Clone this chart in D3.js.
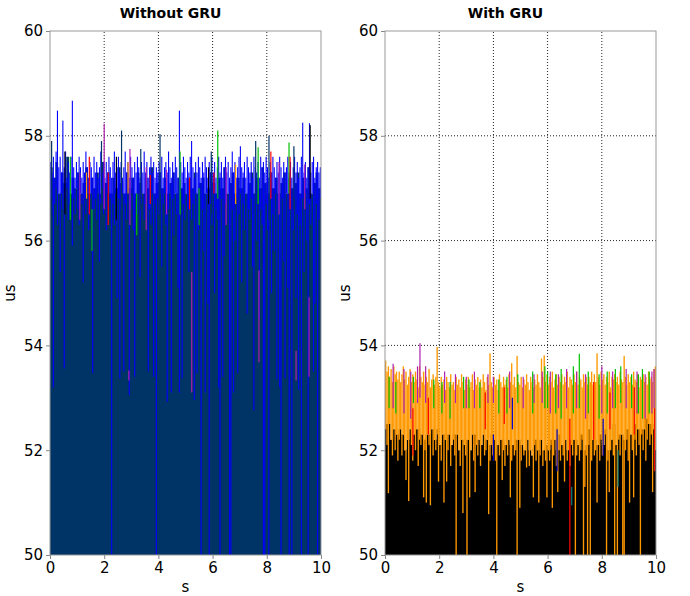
<!DOCTYPE html>
<html>
<head>
<meta charset="utf-8">
<script src="https://cdn.jsdelivr.net/npm/d3@7"></script>
<style>
  body { margin: 0; background: #fff; }
  text { font-family: "DejaVu Sans", sans-serif; }
</style>
</head>
<body>
<div id="chart"></div>
<script>
// ---- data (us values, 0..10 s) ----

// Without GRU: dark navy trace, top of its band per 0.1 s
var navyTop = [
  57.4,57.2,57.5,56.9,57.3,57.1,57.6,56.9,57.2,57.0,
  57.3,56.9,57.1,57.4,56.9,57.2,57.0,57.3,56.9,57.5,
  57.1,57.3,56.9,57.2,57.0,57.4,57.1,56.9,57.3,57.0,
  57.2,56.9,57.3,57.1,56.9,57.2,57.0,57.4,56.9,57.1,
  57.3,57.0,57.2,56.9,57.1,57.3,56.9,57.2,57.0,57.1,
  56.9,57.2,57.0,57.3,56.9,57.1,57.2,56.9,57.0,57.3,
  57.1,56.9,57.2,57.0,57.4,56.9,57.1,57.3,56.9,57.2,
  57.0,57.2,56.9,57.1,57.3,56.9,57.2,57.0,57.4,57.1,
  56.9,57.3,57.0,57.2,56.9,57.1,57.3,56.9,57.2,57.0,
  57.1,57.3,56.9,57.2,57.0,57.4,56.9,57.1,57.3,57.0
];

// Without GRU: blue trace, high / low per 0.05 s
var blueTop = [
  57.5,57.3,57.6,57.2,57.7,58.48,57.4,57.6,57.3,58.29,
  57.4,57.7,57.2,57.5,57.3,57.6,58.67,57.4,57.2,57.5,
  57.3,57.6,57.4,57.2,57.5,57.3,57.7,57.4,57.2,57.5,
  57.4,57.2,57.6,57.3,57.5,57.2,57.4,57.7,57.3,57.5,
  57.2,57.5,57.3,57.6,57.4,57.2,57.5,57.7,57.3,57.4,
  57.6,57.3,57.5,57.2,57.4,57.7,57.3,57.5,57.2,57.6,
  57.4,57.2,57.5,57.3,57.6,57.4,57.2,57.5,57.3,57.7,
  57.3,57.5,57.2,57.4,57.6,57.3,57.5,57.2,57.4,57.3,
  57.5,57.3,57.6,57.2,57.4,57.5,57.3,57.7,57.4,57.2,
  57.5,57.3,57.6,57.4,57.2,58.48,57.5,57.3,57.6,57.4,
  57.2,57.5,57.3,57.6,57.9,57.4,57.2,57.5,57.3,57.6,
  57.4,57.2,57.5,57.3,57.6,57.4,57.2,57.5,57.3,57.6,
  57.3,57.5,57.2,57.4,57.6,57.3,57.5,57.2,57.4,57.6,
  57.3,57.5,57.2,57.4,57.7,57.3,57.5,57.2,57.4,57.6,
  57.8,57.4,57.3,57.5,57.2,57.6,57.4,57.3,57.5,57.2,
  57.6,57.4,57.3,57.5,57.2,57.6,57.4,57.5,57.3,57.6,
  57.4,57.2,57.5,57.3,57.6,57.4,57.2,57.5,57.3,57.6,
  57.4,57.2,57.5,57.3,57.4,57.6,57.3,57.5,57.2,57.4,
  57.6,57.3,57.5,57.2,57.4,57.6,58.25,57.3,57.5,57.2,
  57.4,58.24,57.3,57.5,57.6,57.2,57.4,57.5,57.3,57.4
];
var blueLow = [
  56.8,56.5,53.2,56.7,57.0,56.3,56.9,55.4,56.9,56.6,
  53.56,56.8,57.0,56.4,56.7,56.9,55.9,56.8,56.5,57.0,
  56.6,56.3,56.9,56.7,55.2,56.8,56.5,56.9,56.2,56.8,
  56.9,53.47,56.6,56.8,56.4,56.9,55.6,56.7,57.0,56.5,
  56.8,56.2,56.9,56.6,56.8,50.0,56.7,56.3,56.9,54.9,
  56.8,53.37,56.6,56.9,53.5,56.7,56.4,56.9,53.05,56.6,
  56.9,56.2,53.4,56.8,56.5,56.9,55.3,56.7,56.9,56.4,
  56.7,56.9,53.5,56.6,56.3,56.9,53.4,56.7,50.0,56.8,
  56.5,56.9,55.5,56.7,56.9,56.3,52.92,56.6,56.9,53.1,
  56.8,56.1,56.9,56.5,55.1,53.1,56.9,53.37,56.7,56.4,
  56.9,56.6,55.4,56.8,56.4,56.7,52.96,56.9,53.47,56.2,
  56.8,50.0,56.6,55.8,53.1,56.9,54.8,50.0,56.7,56.3,
  56.9,55.0,56.6,56.4,53.2,50.0,56.8,53.4,55.7,56.7,
  56.3,56.9,50.0,50.0,56.6,53.1,56.0,56.8,53.47,56.5,
  56.9,55.2,56.7,56.2,56.9,54.6,56.6,56.4,56.8,55.5,
  52.76,56.7,56.0,56.9,54.5,56.6,56.3,50.0,50.0,56.7,
  56.2,50.0,56.8,55.0,56.5,55.8,56.9,53.35,56.6,53.2,
  50.0,56.8,55.6,53.37,56.9,55.1,50.0,56.6,50.0,56.2,
  56.8,54.9,56.5,53.15,56.3,50.0,56.8,55.4,56.9,56.0,
  50.0,56.7,56.3,56.9,53.5,54.8,56.7,50.0,56.4,56.8
];

// Without GRU: other traces, single spikes [s, low, high]
var navySpikesL = [[0.06,56.5,57.9],[1.9,56.8,57.9],[2.64,56.6,58.1],[3.35,56.6,57.75],
  [4.06,56.5,58.03],[5.95,56.5,57.7],[7.59,56.7,57.9],[8.08,56.4,58.0],[9.0,56.6,57.8]];
var magentaSpikesL = [[2.0,56.6,58.23],[2.95,56.3,57.75],[2.91,53.33,53.52],[5.23,53.1,55.4],
  [7.71,53.68,55.43],[9.08,53.33,53.9],[9.56,53.4,54.92],[1.1,56.4,57.3],[3.55,56.2,57.4],
  [4.3,56.5,57.35],[6.5,56.3,57.4],[8.45,56.5,57.5],[9.4,56.6,57.45]];
var greenSpikesL = [[0.75,56.4,57.6],[4.8,56.5,57.7],[6.19,56.8,58.1],[7.68,56.7,57.78],
  [8.82,56.9,57.87],[1.55,55.8,56.6],[3.2,56.1,56.9],[5.5,56.3,57.0]];
var redSpikesL = [[1.45,56.5,57.6],[2.15,56.3,57.3],[3.7,56.7,57.25],[5.15,56.6,57.2],
  [8.15,56.8,57.7],[8.86,56.6,57.6],[6.05,56.9,57.3]];
var orangeSpikesL = [[2.88,56.9,57.5],[6.85,56.7,57.45],[1.35,56.8,57.3]];
var blackSpikesL = [[9.6,56.8,58.2],[2.45,56.4,57.6],[0.55,56.5,57.7],[5.85,56.7,57.4]];

// With GRU: black trace, top of its band per 0.1 s
var blackTop = [
  52.5,52.5,52.2,52.4,52.3,52.4,52.3,52.0,52.2,52.4,
  52.3,52.4,52.4,52.3,52.2,52.3,52.3,52.4,52.2,52.4,
  52.1,52.3,52.2,52.3,52.1,52.3,52.3,52.0,52.2,52.1,
  52.2,52.0,52.3,52.3,52.2,52.1,52.3,52.2,52.1,52.3,
  52.2,52.1,52.2,52.2,52.1,52.2,52.1,52.1,52.2,52.2,
  52.1,52.0,52.2,52.0,51.9,52.2,52.0,52.2,52.0,52.1,
  52.0,52.2,52.2,52.0,52.3,52.1,52.2,52.0,52.2,52.2,
  52.2,52.1,52.3,52.0,52.1,52.4,52.2,52.2,52.1,52.3,
  52.1,52.4,52.0,52.2,52.5,52.1,52.3,52.3,52.2,52.4,
  52.3,52.3,52.5,52.4,52.4,52.4,52.6,52.5,52.5,52.4
];

// With GRU: orange trace, high / low per 0.05 s
var orangeTop = [
  53.71,53.5,53.6,53.4,53.55,53.3,53.6,53.45,53.5,53.35,
  53.5,53.3,53.45,53.6,53.35,53.5,53.25,53.4,53.55,53.3,
  53.45,53.3,53.5,53.35,53.2,53.6,53.4,53.3,53.5,53.25,
  53.4,53.3,53.55,53.2,53.35,53.45,53.25,53.4,53.97,53.3,
  53.2,53.4,53.25,53.35,53.15,53.4,53.3,53.2,53.45,53.25,
  53.3,53.15,53.4,53.25,53.35,53.2,53.45,53.3,53.15,53.35,
  53.25,53.4,53.2,53.3,53.45,53.15,53.35,53.25,53.4,53.2,
  53.35,53.2,53.45,53.3,53.15,53.4,53.25,53.85,53.3,53.2,
  53.4,53.25,53.35,53.15,53.45,53.3,53.2,53.4,53.25,53.35,
  53.2,53.45,53.3,53.66,53.25,53.4,53.2,53.8,53.3,53.25,
  53.4,53.2,53.35,53.25,53.45,53.3,53.15,53.4,53.3,53.2,
  53.35,53.25,53.45,53.3,53.2,53.75,53.4,53.81,53.3,53.45,
  53.25,53.4,53.3,53.5,53.2,53.35,53.45,53.25,53.4,53.3,
  53.45,53.25,53.4,53.3,53.5,53.2,53.4,53.35,53.25,53.45,
  53.3,53.5,53.25,53.4,53.35,53.2,53.45,53.3,53.4,53.25,
  53.4,53.3,53.5,53.25,53.45,53.3,53.85,53.4,53.25,53.5,
  53.35,53.45,53.25,53.4,53.3,53.5,53.2,53.4,53.35,53.45,
  53.3,53.4,53.25,53.5,53.35,53.3,53.8,53.4,53.25,53.45,
  53.3,53.4,53.25,53.5,53.35,53.3,53.45,53.2,53.4,53.35,
  53.45,53.3,53.4,53.25,53.5,53.35,53.4,53.3,53.55,53.6
];
var orangeLow = [
  52.4,52.1,51.18,52.5,52.2,51.9,52.4,52.0,52.3,51.8,
  52.2,52.4,51.9,52.3,52.0,51.43,52.2,51.03,52.4,52.1,
  51.8,52.3,52.0,52.4,51.7,52.2,52.1,52.3,51.1,52.0,
  51.0,52.3,52.1,50.95,52.4,51.9,52.2,52.0,52.3,51.4,
  52.1,51.8,52.3,51.0,52.2,51.4,52.0,52.3,51.7,52.1,
  52.2,51.9,50.0,52.3,52.0,51.7,52.2,50.8,52.1,51.9,
  50.0,52.2,51.1,52.0,52.3,51.8,51.2,52.1,51.9,52.2,
  51.7,52.1,52.3,51.9,52.0,52.2,50.78,51.8,52.1,51.9,
  52.2,51.8,50.0,52.1,51.9,52.2,51.43,52.0,51.7,52.1,
  51.9,52.2,51.1,51.8,52.1,51.9,52.0,50.0,52.2,50.9,
  51.8,52.1,51.9,52.0,51.67,52.2,51.7,52.0,51.9,51.1,
  52.1,51.8,52.0,51.0,51.9,52.2,51.7,52.0,51.8,51.1,
  52.0,51.8,52.1,50.9,51.9,52.2,51.7,51.2,52.0,51.8,
  52.1,51.9,51.4,52.2,51.8,52.0,51.7,52.1,51.9,52.2,
  50.0,51.9,52.1,51.8,52.0,52.2,50.0,51.3,51.9,50.0,
  52.1,50.0,51.8,52.2,51.9,52.0,51.0,52.1,51.8,52.2,
  51.9,52.1,52.3,50.0,51.8,51.2,52.0,52.2,51.9,50.0,
  52.1,50.0,52.2,51.9,52.3,50.0,50.0,52.0,52.2,51.8,
  51.0,52.3,52.0,51.1,52.2,51.9,52.4,52.1,50.0,52.3,
  52.0,52.4,51.8,52.2,52.5,52.1,52.3,51.2,52.4,52.0
];

// With GRU: other traces, single spikes [s, low, high]
var magentaSpikesR = [[0.3,52.8,53.65],[0.7,52.7,53.55],[0.95,52.6,53.5],[1.2,52.9,53.6],
  [1.29,53.0,54.04],[1.5,52.9,53.6],[2.2,52.9,53.5],[2.6,52.9,53.45],[3.0,52.8,53.4],
  [3.3,52.8,53.5],[3.8,52.9,53.45],[4.0,52.9,53.4],[4.6,52.8,53.5],[5.1,52.8,53.4],
  [5.5,52.9,53.45],[5.8,52.9,53.5],[6.1,52.7,53.5],[6.4,52.8,53.45],[6.7,52.8,53.55],
  [7.07,52.8,53.5],[7.4,52.6,53.45],[8.0,52.7,53.6],[8.4,52.8,53.5],[8.9,52.8,53.55],
  [9.3,52.7,53.5],[9.6,52.6,53.45],[9.85,52.7,53.5],[9.93,52.8,53.55]];
var greenSpikesR = [[0.15,52.8,53.4],[0.4,52.7,53.3],[1.05,52.9,53.4],[1.8,52.8,53.35],
  [2.1,52.7,53.3],[2.4,52.6,53.3],[2.9,52.8,53.4],[3.1,52.8,53.35],[3.5,52.8,53.3],
  [4.2,52.7,53.35],[4.5,52.7,53.4],[4.9,52.9,53.45],[5.45,52.7,53.5],[5.9,52.8,53.6],
  [6.0,52.8,53.5],[6.3,52.7,53.45],[6.5,52.6,53.55],[6.95,52.7,53.6],[7.17,52.8,53.84],
  [7.5,52.7,53.5],[7.9,52.6,53.45],[8.2,52.7,53.5],[8.5,52.8,53.55],[8.7,52.9,53.6],
  [9.1,52.8,53.45],[9.35,52.7,53.45],[9.5,52.6,53.55],[9.75,52.7,53.5]];
var redSpikesR = [[1.03,51.9,52.8],[1.6,52.3,53.0],[3.7,52.4,53.1],[4.4,52.5,53.2],
  [6.82,50.0,52.6],[7.7,52.2,53.3],[8.3,52.4,53.1],[9.2,52.3,53.2],[9.95,51.6,52.8]];
var blueSpikesR = [[4.0,51.8,52.3],[4.7,52.4,53.0],[6.35,51.6,52.4],[8.05,51.9,52.6]];
var tealSpikesR = [[6.89,50.95,51.3],[8.6,51.3,52.0]];

var yTicks = [50, 52, 54, 56, 58, 60];
var xTicks = [0, 2, 4, 6, 8, 10];

// ---- drawing ----
var width = 690, height = 596;

var svg = d3.select("#chart").append("svg")
    .attr("width", width)
    .attr("height", height);

var y = d3.scaleLinear().domain([50, 60]).range([555, 31]);
var xL = d3.scaleLinear().domain([0, 10]).range([50, 321]);
var xR = d3.scaleLinear().domain([0, 10]).range([385, 656]);

// bandFrac: share of each sample slot the upper trace covers
function drawPanel(x, title, clipId, fillTop, fillColor, bandTop, bandLow, bandColor, bandFrac, spikeSets) {
  var g = svg.append("g");

  // dotted grid, under the traces
  g.selectAll(".gx").data(xTicks.slice(1, -1)).enter().append("line")
    .attr("x1", function(d) { return x(d); })
    .attr("x2", function(d) { return x(d); })
    .attr("y1", y(50)).attr("y2", y(60))
    .attr("stroke", "#222").attr("stroke-dasharray", "1,2");
  g.selectAll(".gy").data(yTicks.slice(1, -1)).enter().append("line")
    .attr("x1", x(0)).attr("x2", x(10))
    .attr("y1", function(d) { return y(d); })
    .attr("y2", function(d) { return y(d); })
    .attr("stroke", "#222").attr("stroke-dasharray", "1,2");

  svg.append("clipPath").attr("id", clipId).append("rect")
    .attr("x", x(0)).attr("y", y(60))
    .attr("width", x(10) - x(0)).attr("height", y(50) - y(60));

  var plot = g.append("g").attr("clip-path", "url(#" + clipId + ")");

  // base trace: dense line, drawn as a stepped band from the bottom
  var fStep = 10 / fillTop.length;
  var pts = fillTop.map(function(v, i) { return [i * fStep, v]; });
  pts.push([10, fillTop[fillTop.length - 1]]);
  var area = d3.area()
    .x(function(d) { return x(d[0]); })
    .y0(y(50))
    .y1(function(d) { return y(d[1]); })
    .curve(d3.curveStepAfter);
  plot.append("path").datum(pts).attr("d", area).attr("fill", fillColor);

  // upper trace: low..high band per sample
  var bStep = 10 / bandTop.length;
  var slot = x(bStep) - x(0);
  plot.selectAll(".band").data(bandTop).enter().append("rect")
    .attr("x", function(d, i) { return x(i * bStep) + slot * (1 - bandFrac) / 2; })
    .attr("width", slot * bandFrac)
    .attr("y", function(d) { return y(d); })
    .attr("height", function(d, i) { return y(bandLow[i]) - y(d); })
    .attr("fill", bandColor);

  // the remaining traces, single spikes
  spikeSets.forEach(function(s) {
    plot.selectAll(null).data(s[0]).enter().append("line")
      .attr("x1", function(d) { return x(d[0]); })
      .attr("x2", function(d) { return x(d[0]); })
      .attr("y1", function(d) { return y(d[1]); })
      .attr("y2", function(d) { return y(d[2]); })
      .attr("stroke", s[1])
      .attr("stroke-width", 1.2);
  });

  // axes
  var ay = g.append("g").attr("transform", "translate(" + x(0) + ",0)")
    .call(d3.axisLeft(y).tickValues(yTicks).tickSize(4).tickPadding(3).tickFormat(d3.format("d")));
  var ax = g.append("g").attr("transform", "translate(0," + y(50) + ")")
    .call(d3.axisBottom(x).tickValues(xTicks).tickSize(4).tickPadding(3).tickFormat(d3.format("d")));
  [ay, ax].forEach(function(a) {
    a.select(".domain").remove();
    a.selectAll(".tick line").attr("stroke", "#888");
    a.selectAll(".tick text")
      .attr("fill", "#000")
      .style("font-size", "15px")
      .style("font-family", "DejaVu Sans, sans-serif");
  });

  // frame
  g.append("rect")
    .attr("x", x(0)).attr("y", y(60))
    .attr("width", x(10) - x(0)).attr("height", y(50) - y(60))
    .attr("fill", "none").attr("stroke", "#999").attr("stroke-width", 1);

  // title and axis names
  g.append("text")
    .attr("x", (x(0) + x(10)) / 2 - 15).attr("y", 18)
    .attr("text-anchor", "middle")
    .style("font-weight", "bold").style("font-size", "14px")
    .text(title);
  g.append("text")
    .attr("x", (x(0) + x(10)) / 2).attr("y", 592)
    .attr("text-anchor", "middle")
    .style("font-size", "15px")
    .text("s");
  g.append("text")
    .attr("transform", "translate(" + (x(0) - 35) + "," + ((y(50) + y(60)) / 2) + ") rotate(-90)")
    .attr("text-anchor", "middle")
    .style("font-size", "15px")
    .text("us");
}

drawPanel(xL, "Without GRU", "clipL", navyTop, "#003366", blueTop, blueLow, "#0000ff", 0.8, [
  [navySpikesL, "#003366"], [magentaSpikesL, "#b020b0"], [greenSpikesL, "#00c000"],
  [redSpikesL, "#ff0000"], [orangeSpikesL, "#ff9900"], [blackSpikesL, "#000000"]
]);

drawPanel(xR, "With GRU", "clipR", blackTop, "#000000", orangeTop, orangeLow, "#ff9900", 1, [
  [magentaSpikesR, "#b020b0"], [greenSpikesR, "#00c000"], [redSpikesR, "#ff0000"],
  [blueSpikesR, "#0000cc"], [tealSpikesR, "#008080"]
]);
</script>
</body>
</html>
